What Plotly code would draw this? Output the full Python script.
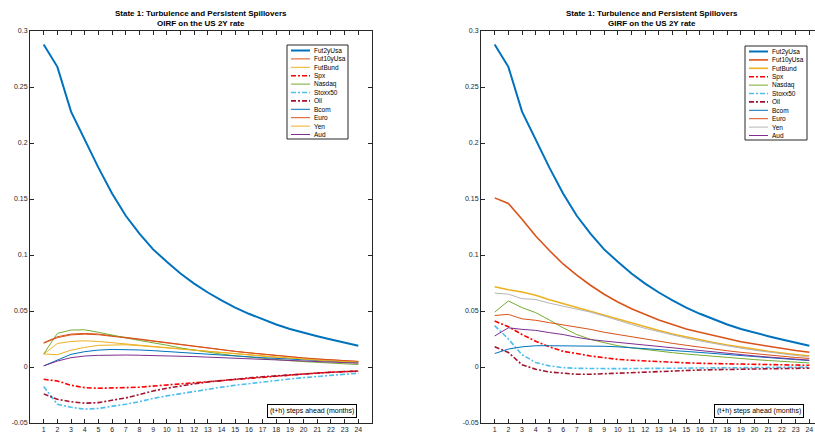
import plotly.graph_objects as go

# ---------------- data ----------------
steps = list(range(1, 25))
x_tick_labels = [str(s) for s in steps]
y_tick_values = [-0.05, 0, 0.05, 0.1, 0.15, 0.2, 0.25, 0.3]
y_tick_labels = ["-0.05", "0", "0.05", "0.1", "0.15", "0.2", "0.25", "0.3"]
series_names = ["Fut2yUsa", "Fut10yUsa", "FutBund", "Spx", "Nasdaq", "Stoxx50",
                "Oil", "Bcom", "Euro", "Yen", "Aud"]
title_line1 = "State 1: Turbulence and Persistent Spillovers"
left_subtitle = "OIRF on the US 2Y rate"
right_subtitle = "GIRF on the US 2Y rate"
box_text = "(t+h) steps ahead (months)"

# Left panel: OIRF
oirf_fut2y = [0.288, 0.268, 0.228, 0.203, 0.178, 0.155, 0.135, 0.119, 0.105, 0.094, 0.0835, 0.0745,
              0.0665, 0.0595, 0.053, 0.0475, 0.0425, 0.038, 0.034, 0.0305, 0.0275, 0.0245, 0.0215, 0.019]
oirf_fut10y = [0.0217, 0.027, 0.0294, 0.030, 0.0294, 0.028, 0.027, 0.025, 0.0234, 0.0218, 0.020, 0.0185,
               0.017, 0.0155, 0.014, 0.0127, 0.0114, 0.0102, 0.0091, 0.0081, 0.0072, 0.0064, 0.0057, 0.0050]
oirf_futbund = [0.0116, 0.021, 0.0228, 0.0234, 0.0228, 0.0217, 0.0205, 0.0193, 0.0182, 0.017, 0.0158, 0.0146,
                0.0135, 0.0124, 0.0113, 0.0103, 0.0094, 0.0085, 0.0077, 0.0069, 0.0062, 0.0055, 0.0049, 0.0043]
oirf_spx = [-0.011, -0.0125, -0.0163, -0.0184, -0.019, -0.019, -0.0184, -0.018, -0.017, -0.016, -0.015, -0.014,
            -0.013, -0.012, -0.011, -0.0098, -0.0088, -0.0078, -0.0069, -0.006, -0.0053, -0.0047, -0.0041, -0.0036]
oirf_nasdaq = [0.0116, 0.030, 0.033, 0.0332, 0.031, 0.0288, 0.026, 0.0237, 0.0217, 0.0195, 0.017, 0.015,
               0.013, 0.0115, 0.010, 0.0088, 0.0077, 0.0066, 0.0056, 0.0048, 0.004, 0.0033, 0.0027, 0.0022]
oirf_stoxx = [-0.0175, -0.0332, -0.036, -0.0377, -0.037, -0.0353, -0.0332, -0.031, -0.028, -0.0258, -0.0237, -0.0217,
              -0.0198, -0.018, -0.0163, -0.0148, -0.0133, -0.012, -0.0107, -0.0095, -0.0084, -0.0074, -0.0064, -0.0055]
oirf_oil = [-0.024, -0.0288, -0.031, -0.0323, -0.0318, -0.0297, -0.0276, -0.0246, -0.0214, -0.019, -0.0168, -0.015,
            -0.0134, -0.012, -0.0108, -0.0097, -0.0087, -0.0078, -0.0069, -0.0061, -0.0054, -0.0047, -0.0041, -0.0036]
oirf_bcom = [0.001, 0.0062, 0.0113, 0.0137, 0.0151, 0.0157, 0.0157, 0.0152, 0.0146, 0.0139, 0.0131, 0.0123,
             0.0115, 0.0107, 0.0099, 0.0091, 0.0083, 0.0076, 0.0069, 0.0062, 0.0056, 0.005, 0.0044, 0.0039]
oirf_euro = [0.0212, 0.0262, 0.0287, 0.0293, 0.0288, 0.0276, 0.0264, 0.0246, 0.023, 0.0214, 0.0197, 0.0182,
             0.0167, 0.0153, 0.0139, 0.0126, 0.0113, 0.0101, 0.009, 0.008, 0.0071, 0.0063, 0.0056, 0.0049]
oirf_yen = [0.0116, 0.011, 0.015, 0.0175, 0.0193, 0.0199, 0.0199, 0.019, 0.018, 0.0169, 0.0158, 0.0147,
            0.0136, 0.0125, 0.0115, 0.0105, 0.0095, 0.0086, 0.0077, 0.0069, 0.0061, 0.0054, 0.0048, 0.0042]
oirf_aud = [0.001, 0.0053, 0.0083, 0.0098, 0.0104, 0.0107, 0.0107, 0.0105, 0.0103, 0.0101, 0.0097, 0.0093,
            0.0088, 0.0083, 0.0078, 0.0073, 0.0068, 0.0063, 0.0058, 0.0053, 0.0048, 0.0043, 0.0038, 0.0034]

# Right panel: GIRF
girf_fut2y = [0.288, 0.268, 0.228, 0.203, 0.178, 0.155, 0.135, 0.119, 0.105, 0.094, 0.0835, 0.0745,
              0.0665, 0.0595, 0.053, 0.0475, 0.0425, 0.038, 0.034, 0.0305, 0.0275, 0.0245, 0.0215, 0.019]
girf_fut10y = [0.151, 0.146, 0.132, 0.117, 0.104, 0.092, 0.082, 0.073, 0.065, 0.058, 0.052, 0.047,
               0.042, 0.038, 0.034, 0.031, 0.028, 0.025, 0.0225, 0.0205, 0.0185, 0.0165, 0.0148, 0.0132]
girf_futbund = [0.0717, 0.069, 0.067, 0.064, 0.060, 0.0565, 0.053, 0.0495, 0.046, 0.0425, 0.039, 0.0355,
                0.0325, 0.0295, 0.0268, 0.0243, 0.0219, 0.0197, 0.0176, 0.0157, 0.014, 0.0125, 0.0111, 0.0098]
girf_spx = [0.041, 0.036, 0.029, 0.023, 0.018, 0.014, 0.012, 0.0098, 0.0083, 0.0068, 0.006, 0.0053,
            0.0047, 0.0042, 0.0037, 0.0033, 0.003, 0.0027, 0.0024, 0.0022, 0.002, 0.0018, 0.0016, 0.0015]
girf_nasdaq = [0.049, 0.059, 0.053, 0.0485, 0.042, 0.035, 0.029, 0.0247, 0.0217, 0.019, 0.0171, 0.0155,
               0.0141, 0.0128, 0.0116, 0.0105, 0.0094, 0.0084, 0.0075, 0.0066, 0.0058, 0.005, 0.0043, 0.0036]
girf_stoxx = [0.037, 0.025, 0.011, 0.004, 0.001, -0.0006, -0.0012, -0.0015, -0.0015, -0.0015, -0.0014, -0.0013,
              -0.0012, -0.0011, -0.001, -0.0009, -0.0008, -0.0007, -0.0006, -0.0005, -0.0004, -0.0003, -0.0002, -0.0001]
girf_oil = [0.018, 0.013, 0.002, -0.002, -0.0045, -0.0057, -0.0065, -0.0065, -0.006, -0.0052, -0.0046, -0.0041,
            -0.0037, -0.0033, -0.003, -0.0027, -0.0024, -0.0021, -0.0019, -0.0017, -0.0015, -0.0013, -0.0012, -0.001]
girf_bcom = [0.012, 0.016, 0.018, 0.019, 0.019, 0.019, 0.019, 0.019, 0.0185, 0.018, 0.0173, 0.0165,
             0.0157, 0.0148, 0.0139, 0.013, 0.012, 0.011, 0.01, 0.0091, 0.0082, 0.0074, 0.0066, 0.0058]
girf_euro = [0.046, 0.047, 0.043, 0.0417, 0.0396, 0.0378, 0.0357, 0.0336, 0.031, 0.0289, 0.0268, 0.0248,
             0.0229, 0.0211, 0.0194, 0.0176, 0.016, 0.0145, 0.0131, 0.0118, 0.0106, 0.0095, 0.0085, 0.0076]
girf_yen = [0.066, 0.065, 0.061, 0.0603, 0.057, 0.0545, 0.052, 0.049, 0.0455, 0.0415, 0.038, 0.0345,
            0.0315, 0.0285, 0.0258, 0.0233, 0.021, 0.0188, 0.0168, 0.015, 0.0133, 0.0117, 0.0103, 0.009]
girf_aud = [0.0277, 0.035, 0.0336, 0.0327, 0.0307, 0.029, 0.0265, 0.0245, 0.0232, 0.022, 0.0206, 0.0192,
            0.0179, 0.0166, 0.0155, 0.0144, 0.0133, 0.0121, 0.011, 0.0099, 0.0089, 0.0079, 0.007, 0.0061]

left_series = [oirf_fut2y, oirf_fut10y, oirf_futbund, oirf_spx, oirf_nasdaq, oirf_stoxx,
               oirf_oil, oirf_bcom, oirf_euro, oirf_yen, oirf_aud]
right_series = [girf_fut2y, girf_fut10y, girf_futbund, girf_spx, girf_nasdaq, girf_stoxx,
                girf_oil, girf_bcom, girf_euro, girf_yen, girf_aud]

# ---------------- styles ----------------
DD = "5px,2px,2px,2px"  # MATLAB-like dash-dot
left_colors = ["#0072BD", "#D95319", "#EDB120", "#FF0000", "#77AC30", "#4DBEEE",
               "#A2142F", "#0072BD", "#D95319", "#EDB120", "#7E2F8E"]
right_colors = ["#0072BD", "#D95319", "#EDB120", "#FF0000", "#77AC30", "#4DBEEE",
                "#A2142F", "#0072BD", "#D95319", "#B5B5B5", "#7E2F8E"]
dashes = ["solid", "solid", "solid", DD, "solid", DD, DD, "solid", "solid", "solid", "solid"]
left_widths = [2, 1, 1, 1.6, 1, 1.6, 1.6, 1, 1, 1, 1]
right_widths = [2, 1.6, 1.6, 1.6, 1, 1.6, 1.6, 1, 1, 1, 1]

W, H = 815, 437
FONT = "Liberation Sans, Arial, Helvetica, sans-serif"
AX = "#262626"

def px(x):
    return x / W

def py(y):
    return 1 - y / H

fig = go.Figure()

for vals, name, c, d, w in zip(left_series, series_names, left_colors, dashes, left_widths):
    fig.add_trace(go.Scatter(x=steps, y=vals, mode="lines", name=name, xaxis="x", yaxis="y",
                             line=dict(color=c, width=w, dash=d), showlegend=False))
for vals, name, c, d, w in zip(right_series, series_names, right_colors, dashes, right_widths):
    fig.add_trace(go.Scatter(x=steps, y=vals, mode="lines", name=name, xaxis="x2", yaxis="y2",
                             line=dict(color=c, width=w, dash=d), showlegend=False))

PLOT_TOP, PLOT_BOT = 31, 423
L_LEFT, L_RIGHT = 30, 372
R_LEFT = 481
unit = (L_RIGHT - L_LEFT) / 25.0

xax = dict(tickmode="array", tickvals=steps, ticktext=x_tick_labels, ticks="inside", ticklen=4,
           tickcolor=AX, showline=True, linecolor=AX, linewidth=1, mirror="ticks", automargin=False,
           showgrid=False, zeroline=False, tickfont=dict(size=7, color=AX, family=FONT))
yax = dict(tickmode="array", tickvals=y_tick_values, ticktext=y_tick_labels, ticks="inside", ticklen=4,
           tickcolor=AX, showline=True, linecolor=AX, linewidth=1, range=[-0.05, 0.3], automargin=False,
           showgrid=False, zeroline=False, tickfont=dict(size=7, color=AX, family=FONT))

fig.update_layout(
    width=W, height=H, margin=dict(l=0, r=0, t=0, b=0, autoexpand=False),
    paper_bgcolor="white", plot_bgcolor="white", showlegend=False,
    font=dict(family=FONT, size=7, color="black"),
    xaxis=dict(xax, domain=[px(L_LEFT), px(L_RIGHT)], range=[0, 25], anchor="y"),
    yaxis=dict(yax, domain=[py(PLOT_BOT), py(PLOT_TOP)], anchor="x", mirror="ticks"),
    xaxis2=dict(xax, domain=[px(R_LEFT), 1.0], range=[0, (W - R_LEFT) / unit], anchor="y2"),
    yaxis2=dict(yax, domain=[py(PLOT_BOT), py(PLOT_TOP)], anchor="x2", mirror=False),
)

# titles
for cx, sub in [((L_LEFT + L_RIGHT) / 2, left_subtitle), ((R_LEFT + R_LEFT + 342) / 2, right_subtitle)]:
    fig.add_annotation(x=px(cx), y=py(19), xref="paper", yref="paper", showarrow=False,
                       text="<b>" + title_line1 + "</b><br><b>" + sub + "</b>",
                       font=dict(size=8, family=FONT, color="black"), xanchor="center", yanchor="middle",
                       align="center")

# "(t+h)" boxes
for cx in [311.5, 758.5]:
    fig.add_annotation(x=px(cx), y=py(411), xref="paper", yref="paper", showarrow=False,
                       text=box_text, font=dict(size=7, family=FONT, color="black"),
                       bordercolor="black", borderwidth=1, borderpad=2, bgcolor="white",
                       xanchor="center", yanchor="middle")

# custom compact legends
def add_legend(bx0, bx1, by0, by1, colors, widths):
    fig.add_shape(type="rect", xref="paper", yref="paper", x0=px(bx0), x1=px(bx1), y0=py(by0), y1=py(by1),
                  line=dict(color=AX, width=1), fillcolor="white", layer="above")
    n = len(series_names)
    step = (by1 - by0 - 10) / (n - 1)
    for i, name in enumerate(series_names):
        yc = by0 + 5.5 + i * step
        fig.add_shape(type="line", xref="paper", yref="paper", x0=px(bx0 + 4), x1=px(bx0 + 23),
                      y0=py(yc), y1=py(yc), layer="above",
                      line=dict(color=colors[i], width=widths[i], dash=dashes[i]))
        fig.add_annotation(x=px(bx0 + 24.5), y=py(yc), xref="paper", yref="paper", showarrow=False,
                           text=name, font=dict(size=6.5, family=FONT, color="black"),
                           xanchor="left", yanchor="middle")

add_legend(287, 348, 45, 139, left_colors, left_widths)
add_legend(745, 807, 46, 140, right_colors, right_widths)

fig.write_html("out.html", config={"displayModeBar": False, "staticPlot": True},
               post_script="document.body.style.margin='0';")
